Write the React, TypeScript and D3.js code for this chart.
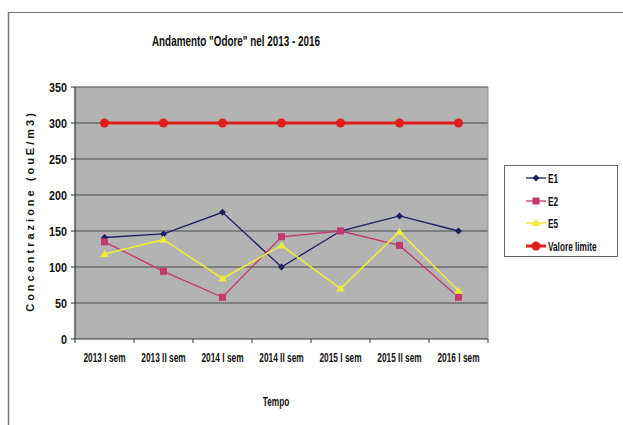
import React from "react";
import * as d3 from "d3";

const categories = ["2013 I sem", "2013 II sem", "2014 I sem", "2014 II sem", "2015 I sem", "2015 II sem", "2016 I sem"];
const e1 = [141, 146, 176, 100, 150, 171, 150];
const e2 = [135, 94, 58, 142, 150, 130, 58];
const e5 = [118, 138, 84, 130, 70, 149, 67];
const limite = [300, 300, 300, 300, 300, 300, 300];
const yTicks = [0, 50, 100, 150, 200, 250, 300, 350];
const seriesNames = ["E1", "E2", "E5", "Valore limite"];

const W = 623, H = 425;
const plot = { left: 75, right: 488, top: 87, bottom: 339 };
const FONT = "'Liberation Sans', Arial, sans-serif";

export default function App() {
  const x = d3.scaleBand<string>().domain(categories).range([plot.left, plot.right]);
  const y = d3.scaleLinear().domain([0, 350]).range([plot.bottom, plot.top]);
  const cx = (c: string) => (x(c) as number) + x.bandwidth() / 2;
  const line = d3.line<number>().x((_, i) => cx(categories[i])).y((d) => y(d));

  const series = [
    { name: seriesNames[0], data: e1, color: "#1c1f5e", width: 1.3, marker: "diamond" },
    { name: seriesNames[1], data: e2, color: "#c2386f", width: 1.3, marker: "square" },
    { name: seriesNames[2], data: e5, color: "#ecec3c", width: 1.6, marker: "triangle" },
    { name: seriesNames[3], data: limite, color: "#e01e1e", width: 3, marker: "circle" },
  ];

  const marker = (type: string, px: number, py: number, color: string, key: string) => {
    if (type === "diamond") {
      const s = 3.5;
      return <path key={key} d={`M${px},${py - s}L${px + s},${py}L${px},${py + s}L${px - s},${py}Z`} fill={color} />;
    }
    if (type === "square") {
      return <rect key={key} x={px - 3.5} y={py - 3.5} width={7} height={7} fill={color} />;
    }
    if (type === "triangle") {
      return <path key={key} d={`M${px},${py - 4}L${px + 4.5},${py + 3}L${px - 4.5},${py + 3}Z`} fill={color} />;
    }
    return <circle key={key} cx={px} cy={py} r={4.5} fill={color} />;
  };

  const legendY = [178, 201, 223, 246];

  return (
    <svg width={W} height={H} style={{ position: "absolute", left: 0, top: 0, background: "#fff" }} fontFamily={FONT}>
      <rect x={0} y={0} width={W} height={H} fill="#fff" />
      <line x1={8} y1={12.5} x2={W} y2={12.5} stroke="#777" strokeWidth={1.2} />
      <line x1={8.5} y1={12} x2={8.5} y2={H} stroke="#777" strokeWidth={1.5} />

      <text transform="translate(236,46) scale(0.66,1)" textAnchor="middle" fontSize={15} fontWeight="bold" fill="#111">
        Andamento "Odore" nel 2013 - 2016
      </text>

      <rect x={plot.left} y={plot.top} width={plot.right - plot.left} height={plot.bottom - plot.top} fill="#b3b3b3" />
      {yTicks.slice(1).map((t) => (
        <line key={"g" + t} x1={plot.left} x2={plot.right} y1={y(t)} y2={y(t)} stroke="#4a4a4a" strokeWidth={1} />
      ))}
      <line x1={plot.right} x2={plot.right} y1={plot.top} y2={plot.bottom} stroke="#999" strokeWidth={1} />

      <line x1={plot.left} x2={plot.left} y1={plot.top} y2={plot.bottom} stroke="#333" strokeWidth={1.2} />
      <line x1={plot.left} x2={plot.right} y1={plot.bottom} y2={plot.bottom} stroke="#333" strokeWidth={1.2} />
      {yTicks.map((t) => (
        <g key={"yt" + t}>
          <line x1={plot.left - 4} x2={plot.left} y1={y(t)} y2={y(t)} stroke="#333" />
          <text transform={`translate(67,${y(t) + 5}) scale(0.83,1)`} textAnchor="end" fontSize={13} fontWeight="bold" fill="#111">{t}</text>
        </g>
      ))}
      {[...categories.map((c) => x(c) as number), plot.right].map((v, i) => (
        <line key={"xt" + i} x1={v} x2={v} y1={plot.bottom} y2={plot.bottom + 4} stroke="#333" />
      ))}
      {categories.map((c) => (
        <text key={"xl" + c} transform={`translate(${cx(c)},362) scale(0.64,1)`} textAnchor="middle" fontSize={13} fontWeight="bold" fill="#111">{c}</text>
      ))}

      <text transform="translate(276,406) scale(0.69,1)" textAnchor="middle" fontSize={12} fontWeight="bold" fill="#111">Tempo</text>
      <text transform={`translate(34,211) rotate(-90)`} textAnchor="middle" fontSize={11} fontWeight="bold" letterSpacing={3} fill="#111">
        Concentrazione (ouE/m3)
      </text>

      {series.map((s) => (
        <g key={s.name}>
          <path d={line(s.data) || ""} fill="none" stroke={s.color} strokeWidth={s.width} />
          {s.data.map((d, i) => marker(s.marker, cx(categories[i]), y(d), s.color, s.name + i))}
        </g>
      ))}

      <rect x={504.5} y={165.5} width={113} height={91} fill="#fff" stroke="#666" strokeWidth={1} />
      {series.map((s, i) => (
        <g key={"lg" + s.name}>
          <line x1={526} x2={546} y1={legendY[i]} y2={legendY[i]} stroke={s.color} strokeWidth={s.width} />
          {marker(s.marker, 536, legendY[i], s.color, "lm" + i)}
          <text transform={`translate(548,${legendY[i] + 4.5}) scale(0.66,1)`} fontSize={12.5} fontWeight="bold" fill="#111">{s.name}</text>
        </g>
      ))}
    </svg>
  );
}
